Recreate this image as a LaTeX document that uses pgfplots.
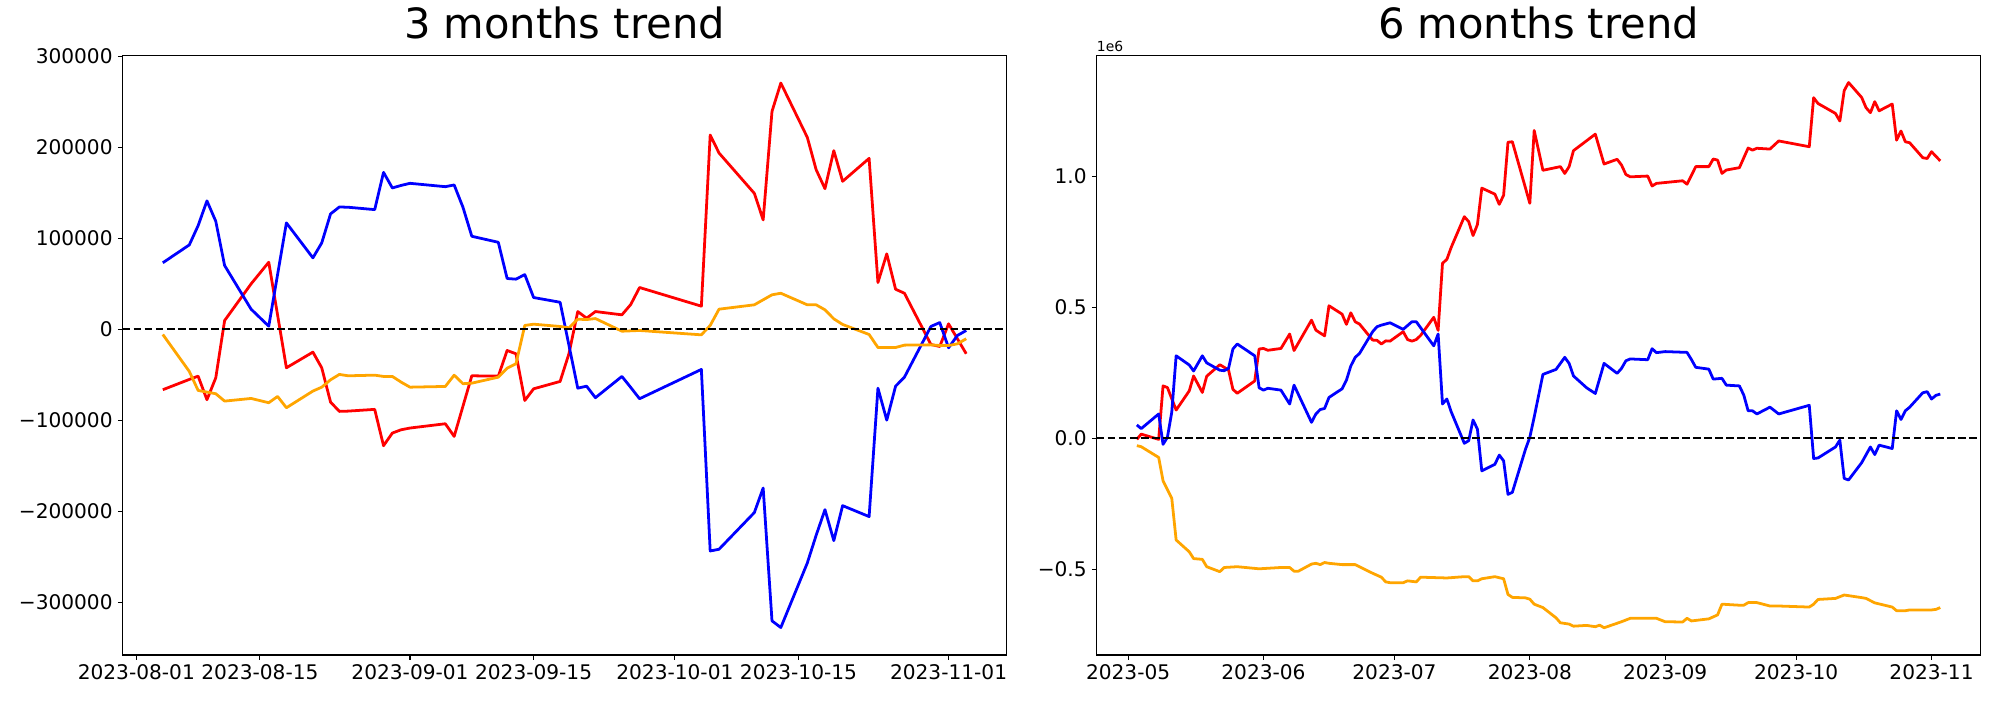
\documentclass[border=0pt]{standalone}
\usepackage{pgfplots}
\pgfplotsset{compat=1.18}
\usepackage{fontspec}
\setmainfont{DejaVu Sans}
\definecolor{mplorange}{RGB}{255,165,0}
\pgfplotsset{
  myaxis/.style={
    scale only axis, width=636.3pt, height=431.8pt, anchor=south west,
    axis line style={line width=0.8pt, black},
    tick align=outside, tick pos=left,
    major tick length=3.5pt,
    every tick/.style={black, line width=0.8pt},
    tick label style={font=\fontsize{14.5}{17}\selectfont, inner sep=0pt},
    xticklabel shift=3.5pt, yticklabel shift=3.5pt,
    scaled ticks=false,
    /pgf/number format/assume math mode=true,
    title style={font=\fontsize{30}{36}\selectfont, anchor=base, at={(0.5,1)}, yshift=6pt, inner sep=0pt},
    every axis plot/.append style={line width=2pt, line join=round},
  },
  zeroline/.style={black, line width=1.5pt, dash pattern=on 5.55pt off 2.4pt},
}
\begin{document}
\begin{tikzpicture}
\path[use as bounding box] (0,0) rectangle (1440pt,504pt);
% ---------------- left panel ----------------
\begin{axis}[myaxis, at={(88.3pt,32.4pt)},
  title={3 months trend},
  xmin=-1.55, xmax=98.55, ymin=-358000, ymax=301000,
  xtick={0,14,31,45,61,75,92},
  xticklabels={2023-08-01,2023-08-15,2023-09-01,2023-09-15,2023-10-01,2023-10-15,2023-11-01},
  ytick={-300000,-200000,-100000,0,100000,200000,300000},
  yticklabels={−300000,−200000,−100000,0,100000,200000,300000},
]
\addplot[red] coordinates {(3,-66500) (6,-55200) (7,-51600) (8,-77500) (9,-53400) (10,9500) (13,49800) (15,73600) (17,-42400) (20,-25200) (21,-42400) (22,-80100) (23,-90300) (24,-90000) (27,-88100) (28,-128000) (29,-114100) (30,-110500) (31,-108600) (35,-103900) (36,-117800) (37,-84500) (38,-51200) (41,-51600) (42,-23400) (43,-27000) (44,-78300) (45,-65500) (48,-57400) (49,-27000) (50,19400) (51,12100) (52,19400) (55,15800) (56,27100) (57,45800) (64,25300) (65,213400) (66,193600) (70,149300) (71,120100) (72,239300) (73,270500) (76,210800) (77,175300) (78,154400) (79,196200) (80,162500) (83,187700) (84,51300) (85,82800) (86,43900) (87,39500) (90,-16800) (91,-19000) (92,5900) (93,-10500) (94,-27000)};
\addplot[blue] coordinates {(3,73000) (6,92600) (7,113800) (8,141000) (9,118600) (10,70000) (13,22000) (15,3300) (17,116800) (20,78400) (21,94800) (22,126700) (23,134300) (24,134000) (27,131400) (28,172300) (29,155200) (30,158000) (31,160300) (35,156600) (36,158500) (37,133900) (38,102100) (41,95500) (42,55700) (43,55000) (44,60000) (45,34800) (48,29600) (49,-17600) (50,-64800) (51,-62600) (52,-75300) (55,-51900) (56,-64000) (57,-76400) (64,-44200) (65,-243700) (66,-241800) (70,-201500) (71,-174500) (72,-320500) (73,-327800) (76,-256900) (77,-226500) (78,-198300) (79,-232300) (80,-193900) (83,-205900) (84,-64800) (85,-99900) (86,-62600) (87,-52700) (90,3000) (91,7300) (92,-20400) (93,-6900) (94,-1400)};
\addplot[mplorange] coordinates {(3,-5800) (6,-46400) (7,-67300) (8,-69100) (9,-70900) (10,-79000) (13,-76100) (15,-80800) (16,-73900) (17,-86300) (20,-68000) (21,-63700) (22,-55600) (23,-49700) (24,-51200) (27,-50500) (28,-51900) (29,-51900) (30,-58200) (31,-63700) (35,-62900) (36,-50500) (37,-59900) (38,-59300) (41,-52700) (42,-42800) (43,-38000) (44,4100) (45,5500) (48,3000) (49,1500) (50,11000) (51,10600) (52,11700) (55,-2200) (57,-1400) (64,-6200) (65,4100) (66,22000) (70,26800) (71,32300) (72,37800) (73,39500) (76,26800) (77,26800) (78,21300) (79,11400) (80,5200) (83,-5800) (84,-20100) (85,-20100) (86,-20100) (87,-17500) (90,-17200) (91,-17900) (92,-17900) (93,-16100) (94,-10500)};
\addplot[zeroline] coordinates {(-1.55,0) (98.55,0)};
\end{axis}
% ---------------- right panel ----------------
\begin{axis}[myaxis, at={(789.6pt,32.4pt)}, name=rightax,
  title={6 months trend},
  xmin=-7.2, xmax=195.2, ymin=-0.828e6, ymax=1.461e6,
  xtick={0,31,61,92,123,153,184},
  xticklabels={2023-05,2023-06,2023-07,2023-08,2023-09,2023-10,2023-11},
  ytick={-0.5e6,0,0.5e6,1e6},
  yticklabels={−0.5,0.0,0.5,1.0},
]
\addplot[red] coordinates {(2,-0.005e6) (3,0.015e6) (7,-0.005e6) (8,0.199e6) (9,0.193e6) (11,0.107e6) (14,0.180e6) (15,0.237e6) (17,0.174e6) (18,0.236e6) (21,0.280e6) (23,0.260e6) (24,0.186e6) (25,0.171e6) (29,0.218e6) (30,0.340e6) (31,0.342e6) (32,0.335e6) (35,0.342e6) (37,0.397e6) (38,0.334e6) (42,0.450e6) (43,0.412e6) (45,0.390e6) (46,0.505e6) (49,0.473e6) (50,0.434e6) (51,0.478e6) (52,0.444e6) (53,0.435e6) (56,0.374e6) (57,0.373e6) (58,0.359e6) (59,0.371e6) (60,0.370e6) (63,0.406e6) (64,0.376e6) (65,0.370e6) (66,0.376e6) (67,0.392e6) (70,0.461e6) (71,0.411e6) (72,0.667e6) (73,0.682e6) (74,0.728e6) (77,0.845e6) (78,0.826e6) (79,0.773e6) (80,0.815e6) (81,0.954e6) (84,0.931e6) (85,0.892e6) (86,0.927e6) (87,1.129e6) (88,1.131e6) (92,0.896e6) (93,1.174e6) (95,1.022e6) (99,1.036e6) (100,1.010e6) (101,1.036e6) (102,1.097e6) (107,1.160e6) (109,1.046e6) (112,1.064e6) (113,1.042e6) (114,1.006e6) (115,0.997e6) (119,1.000e6) (120,0.962e6) (121,0.972e6) (127,0.982e6) (128,0.969e6) (130,1.036e6) (133,1.036e6) (134,1.065e6) (135,1.061e6) (136,1.010e6) (137,1.023e6) (140,1.032e6) (142,1.107e6) (143,1.099e6) (144,1.106e6) (147,1.103e6) (149,1.134e6) (156,1.112e6) (157,1.299e6) (158,1.277e6) (162,1.239e6) (163,1.210e6) (164,1.326e6) (165,1.357e6) (168,1.300e6) (169,1.261e6) (170,1.242e6) (171,1.284e6) (172,1.249e6) (175,1.275e6) (176,1.137e6) (177,1.172e6) (178,1.131e6) (179,1.127e6) (182,1.070e6) (183,1.067e6) (184,1.093e6) (186,1.058e6)};
\addplot[blue] coordinates {(2,0.050e6) (3,0.036e6) (7,0.092e6) (8,-0.024e6) (9,0.003e6) (10,0.099e6) (11,0.314e6) (14,0.279e6) (15,0.256e6) (17,0.314e6) (18,0.287e6) (21,0.259e6) (22,0.257e6) (23,0.266e6) (24,0.340e6) (25,0.359e6) (29,0.314e6) (30,0.192e6) (31,0.183e6) (32,0.190e6) (35,0.183e6) (37,0.130e6) (38,0.202e6) (42,0.060e6) (43,0.092e6) (44,0.109e6) (45,0.113e6) (46,0.155e6) (49,0.188e6) (50,0.221e6) (51,0.275e6) (52,0.308e6) (53,0.323e6) (56,0.406e6) (57,0.425e6) (58,0.431e6) (60,0.440e6) (63,0.415e6) (65,0.444e6) (66,0.444e6) (70,0.352e6) (71,0.397e6) (72,0.130e6) (73,0.149e6) (74,0.100e6) (77,-0.020e6) (78,-0.010e6) (79,0.069e6) (80,0.034e6) (81,-0.125e6) (84,-0.100e6) (85,-0.065e6) (86,-0.087e6) (87,-0.215e6) (88,-0.207e6) (91,-0.043e6) (92,0.003e6) (93,0.080e6) (95,0.243e6) (98,0.262e6) (100,0.308e6) (101,0.285e6) (102,0.237e6) (105,0.192e6) (107,0.170e6) (109,0.285e6) (112,0.247e6) (113,0.266e6) (114,0.295e6) (115,0.302e6) (119,0.299e6) (120,0.341e6) (121,0.326e6) (123,0.330e6) (128,0.327e6) (129,0.300e6) (130,0.270e6) (133,0.263e6) (134,0.225e6) (136,0.228e6) (137,0.202e6) (140,0.199e6) (141,0.164e6) (142,0.104e6) (143,0.104e6) (144,0.092e6) (147,0.118e6) (149,0.092e6) (156,0.125e6) (157,-0.078e6) (158,-0.076e6) (162,-0.034e6) (163,-0.008e6) (164,-0.154e6) (165,-0.160e6) (168,-0.094e6) (170,-0.034e6) (171,-0.063e6) (172,-0.027e6) (175,-0.040e6) (176,0.104e6) (177,0.071e6) (178,0.104e6) (179,0.118e6) (182,0.173e6) (183,0.177e6) (184,0.149e6) (185,0.163e6) (186,0.168e6)};
\addplot[mplorange] coordinates {(2,-0.029e6) (3,-0.033e6) (7,-0.074e6) (8,-0.163e6) (10,-0.230e6) (11,-0.389e6) (14,-0.434e6) (15,-0.460e6) (17,-0.463e6) (18,-0.491e6) (21,-0.510e6) (22,-0.494e6) (25,-0.491e6) (30,-0.499e6) (35,-0.494e6) (37,-0.494e6) (38,-0.508e6) (39,-0.508e6) (42,-0.481e6) (43,-0.478e6) (44,-0.483e6) (45,-0.475e6) (46,-0.478e6) (49,-0.483e6) (52,-0.483e6) (56,-0.516e6) (58,-0.531e6) (59,-0.549e6) (60,-0.552e6) (63,-0.552e6) (64,-0.545e6) (66,-0.549e6) (67,-0.531e6) (73,-0.534e6) (77,-0.529e6) (78,-0.529e6) (79,-0.545e6) (80,-0.545e6) (81,-0.537e6) (84,-0.529e6) (86,-0.537e6) (87,-0.597e6) (88,-0.608e6) (91,-0.610e6) (92,-0.615e6) (93,-0.634e6) (95,-0.647e6) (98,-0.686e6) (99,-0.705e6) (101,-0.710e6) (102,-0.718e6) (105,-0.715e6) (107,-0.720e6) (108,-0.714e6) (109,-0.724e6) (113,-0.701e6) (115,-0.688e6) (119,-0.688e6) (121,-0.688e6) (123,-0.701e6) (127,-0.702e6) (128,-0.688e6) (129,-0.698e6) (133,-0.690e6) (135,-0.675e6) (136,-0.634e6) (140,-0.638e6) (141,-0.638e6) (142,-0.628e6) (144,-0.628e6) (147,-0.641e6) (149,-0.641e6) (156,-0.645e6) (157,-0.634e6) (158,-0.616e6) (162,-0.612e6) (164,-0.599e6) (168,-0.609e6) (169,-0.612e6) (171,-0.629e6) (175,-0.645e6) (176,-0.659e6) (178,-0.659e6) (179,-0.656e6) (184,-0.656e6) (185,-0.654e6) (186,-0.647e6)};
\addplot[zeroline] coordinates {(-7.2,0) (195.2,0)};
\end{axis}
\node[anchor=base west, inner sep=0pt, font=\fontsize{10}{12}\selectfont, yshift=3pt] at (rightax.north west) {1e6};
\end{tikzpicture}
\end{document}
